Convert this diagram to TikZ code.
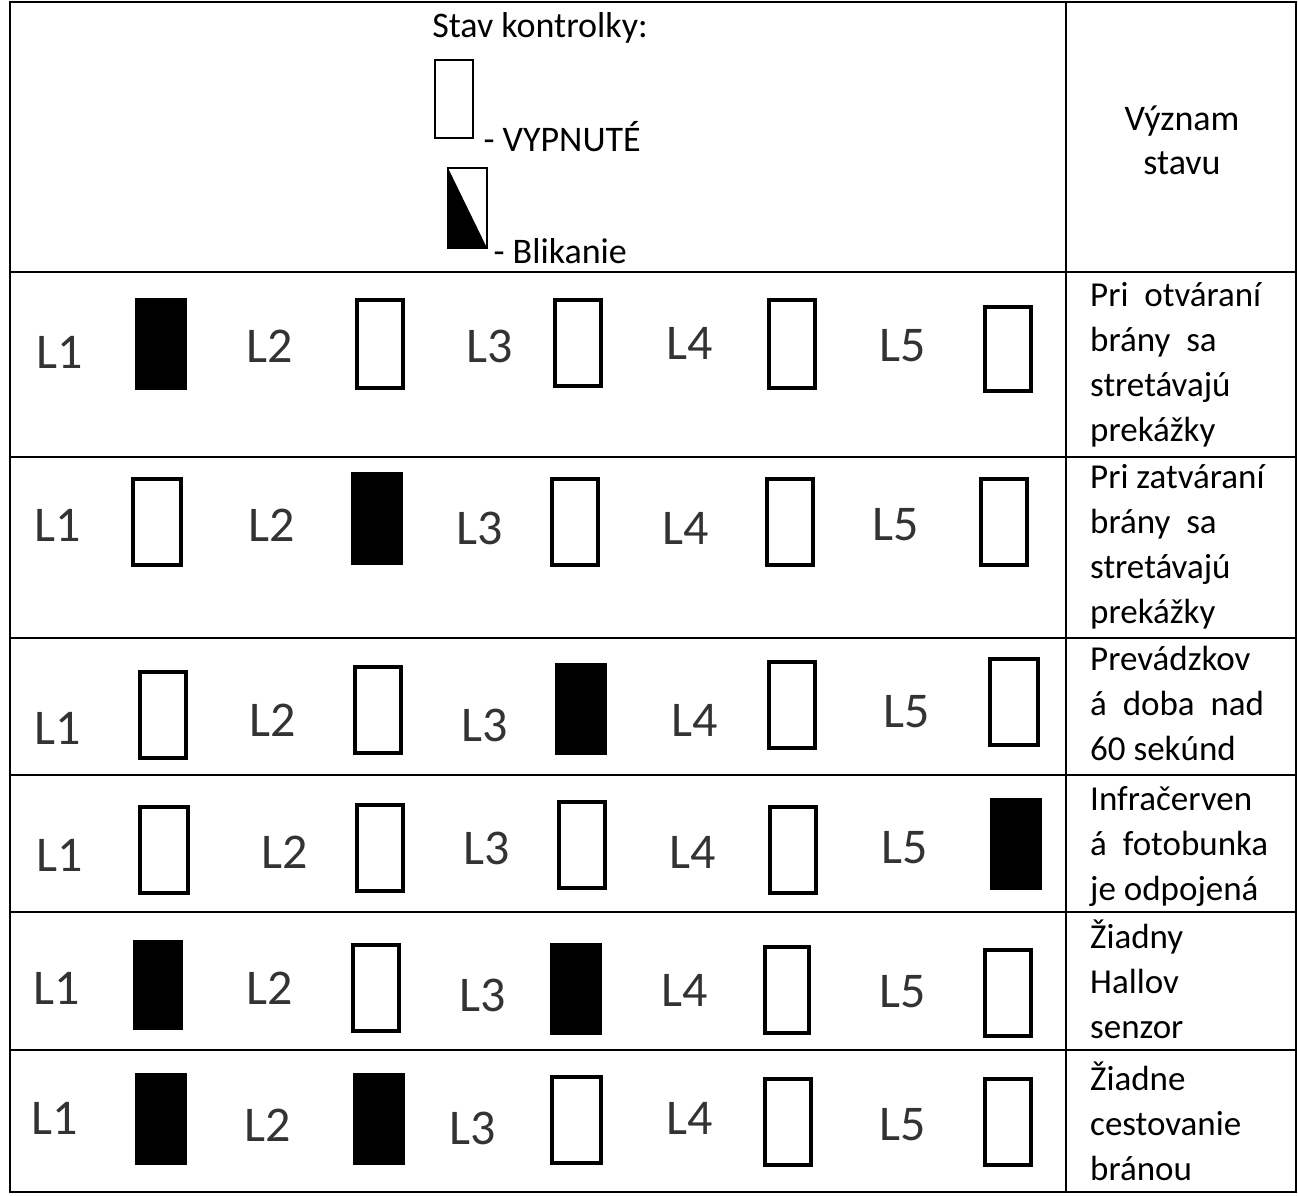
\documentclass[tikz,border=0pt]{standalone}
\usepackage{fontspec}
\setmainfont{Carlito}
\begin{document}
\begin{tikzpicture}[x=1pt,y=-1pt,
  grid/.style={line width=1.5pt},
  lampoff/.style={draw, line width=3.5pt},
  lab/.style={font=\fontsize{50}{50}\selectfont, text=black!80},
  hd/.style={font=\fontsize{36}{36}\selectfont},
  mean/.style={anchor=north west, align=left, font=\fontsize{35}{45}\selectfont, inner sep=0pt}]
\useasboundingbox (0,0) rectangle (1298,1195);
\draw[grid] (10,2) rectangle (1296,1192);
\draw[grid] (1066,2) -- (1066,1192);
\foreach \y in {272,457,638,775,912,1050} \draw[grid] (10,\y) -- (1296,\y);
\node[hd] (title) at (540,28) {Stav kontrolky:};
\draw[line width=1.5pt] (435,60) rectangle (473,138);
\node[hd, anchor=west] (off) at (480,137) {- VYPNUTÉ};
\draw[line width=1.5pt] (448,168) rectangle (487,248);
\fill (448,168) -- (487,248) -- (448,248) -- cycle;
\node[hd, anchor=west] (blink) at (490,251) {- Blikanie};
\node[align=center, font=\fontsize{36}{44}\selectfont] (hdr) at (1182,140) {Význam\\stavu};
\foreach \lx/\ly/\ax/\ay/\bx/\by/\f/\t in {
 60/352/135/298/187/390/1/L1, 270/346/355/298/405/390/0/L2, 490/346/553/298/603/388/0/L3, 690/343/767/298/817/390/0/L4, 903/346/983/305/1033/393/0/L5,
 58/525/131/477/183/567/0/L1, 272/525/351/472/403/565/1/L2, 480/528/550/477/600/567/0/L3, 686/528/765/477/815/567/0/L4, 896/525/979/477/1029/567/0/L5,
 58/728/138/670/188/760/0/L1, 273/720/353/665/403/755/0/L2, 485/725/555/663/607/755/1/L3, 695/720/767/660/817/750/0/L4, 907/712/988/657/1040/747/0/L5,
 60/855/138/805/190/895/0/L1, 285/852/355/803/405/893/0/L2, 487/848/557/800/607/890/0/L3, 693/852/768/805/818/895/0/L4, 905/848/990/798/1042/890/1/L5,
 57/988/133/940/183/1030/1/L1, 270/988/351/943/401/1033/0/L2, 483/995/550/943/602/1035/1/L3, 685/990/763/945/811/1035/0/L4, 903/992/983/948/1033/1038/0/L5,
 55/1118/135/1073/187/1165/1/L1, 268/1125/353/1073/405/1165/1/L2, 473/1128/550/1075/603/1165/0/L3, 690/1118/763/1077/813/1167/0/L4, 903/1125/983/1077/1033/1167/0/L5}{
  \node[lab] at (\lx,\ly) {\t};
  \ifnum\f=1 \fill (\ax,\ay) rectangle (\bx,\by);
  \else \draw[lampoff] (\ax+2,\ay+2) rectangle (\bx-2,\by-2); \fi
}
\node[mean] (m1) at (1090,282) {Pri\ \ otváraní\\brány\ \ sa\\stretávajú\\prekážky};
\node[mean] (m2) at (1090,464) {Pri zatváraní\\brány\ \ sa\\stretávajú\\prekážky};
\node[mean] (m3) at (1090,646) {Prevádzkov\\á\ \ doba\ \ nad\\60 sekúnd};
\node[mean] (m4) at (1090,786) {Infračerven\\á\ \ fotobunka\\je odpojená};
\node[mean] (m5) at (1090,920) {Žiadny\\Hallov\\senzor};
\node[mean] (m6) at (1090,1062) {Žiadne\\cestovanie\\bránou};
\end{tikzpicture}
\end{document}
